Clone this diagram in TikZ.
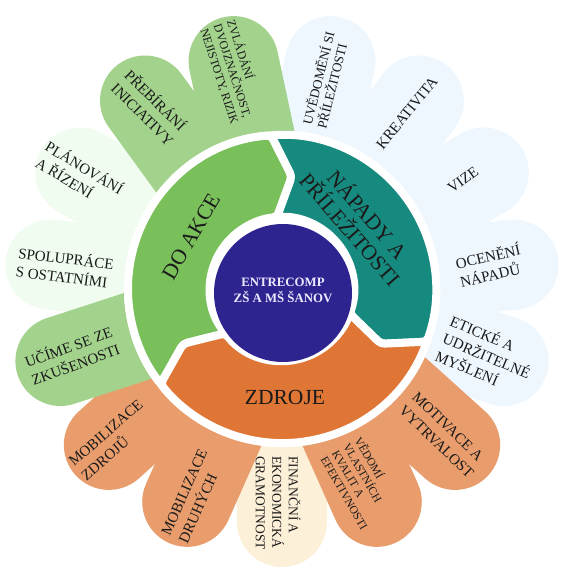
\documentclass[tikz,border=0pt]{standalone}
\usepackage{fontspec}
\setmainfont{Liberation Serif}
\definecolor{purp}{HTML}{2E2490}
\definecolor{cgreen}{HTML}{79BF5A}
\definecolor{cteal}{HTML}{178A7F}
\definecolor{corange}{HTML}{E07635}
\definecolor{pblue}{HTML}{EEF6FE}
\definecolor{pvlgreen}{HTML}{F0FCEF}
\definecolor{pgreen}{HTML}{A2D28C}
\definecolor{porange}{HTML}{E99D6C}
\definecolor{pcream}{HTML}{FDF0D8}
\definecolor{ink}{HTML}{1A1A1A}
\definecolor{centertext}{HTML}{EEEAFF}
\begin{document}
\begin{tikzpicture}[x=1pt,y=1pt,
  petalshape/.style={fill=#1},
  segshape/.style={fill=#1, draw=white, line width=8pt, rounded corners=4pt},
  ptext/.style={text=ink, align=left, inner sep=0pt, font=\fontsize{15}{19}\selectfont},
  bigtext/.style={text=ink, align=center, inner sep=0pt, font=\fontsize{21.5}{23}\selectfont},
  midtext/.style={text=centertext, align=center, inner sep=0pt, font=\bfseries\fontsize{12.8}{16}\selectfont}]
\useasboundingbox (-282,-277) rectangle (288,289);
% petals (drawing order matters)
\foreach \a/\c in {78/pblue,54/pblue,30/pblue,6/pblue,-18/pblue,
                   174/pvlgreen,150/pvlgreen,-90/pcream,
                   -42/porange,-66/porange,-114/porange,-138/porange,
                   -162/pgreen,126/pgreen,102/pgreen}{
  \fill[petalshape=\c, rotate=\a] (120,-45) -- (233,-45)
     arc[start angle=-90, end angle=90, radius=45pt] -- (120,45) -- cycle;
}
% white ring
\fill[white] (0,0) circle[radius=158pt];
% ring segments
\filldraw[segshape=cgreen] (94:154) arc[start angle=94, end angle=218, radius=154pt]
   -- (209:113) -- (218:72) arc[start angle=218, end angle=94, radius=72pt]
   -- (85:113) -- cycle;
\filldraw[segshape=cteal] (94:154) arc[start angle=94, end angle=-20, radius=154pt]
   -- (-29:113) -- (-20:72) arc[start angle=-20, end angle=94, radius=72pt]
   -- (85:113) -- cycle;
\filldraw[segshape=corange] (-20:154) arc[start angle=-20, end angle=-142, radius=154pt]
   -- (-151:113) -- (-142:72) arc[start angle=-142, end angle=-20, radius=72pt]
   -- (-29:113) -- cycle;
% centre
\fill[purp] (1,-4) circle[radius=69pt];
\node[midtext] (core) at (1,-1) {ENTRECOMP\\ZŠ A MŠ ŠANOV};
% segment labels
\node[bigtext, rotate=60] (doakce) at (150:105) {DO AKCE};
\node[bigtext, rotate=-49] (napady) at (41:103) {NÁPADY A\\PŘÍLEŽITOSTI};
\node[bigtext] (zdroje) at (3,-108) {ZDROJE};
% petal labels
\node[ptext, rotate=76, font=\fontsize{13.3}{15}\selectfont] (p1) at (43,209) {UVĚDOMĚNÍ SI\\PŘÍLEŽITOSTI};
\node[ptext, rotate=51] (p2) at (125,176) {KREATIVITA};
\node[ptext, rotate=36] (p3) at (181,109) {VIZE};
\node[ptext, rotate=13] (p4) at (208,24) {OCENĚNÍ\\NÁPADŮ};
\node[ptext, rotate=-23] (p5) at (205,-66) {ETICKÉ A\\UDRŽITELNÉ\\MYŠLENÍ};
\node[ptext, rotate=-44] (p6) at (161,-146) {MOTIVACE A\\VYTRVALOST};
\node[ptext, rotate=-60, font=\fontsize{11.5}{13}\selectfont] (p7) at (80,-194) {VĚDOMÍ\\VLASTNÍCH\\KVALIT A\\EFEKTIVNOSTI};
\node[ptext, rotate=-90, font=\fontsize{13.5}{16.5}\selectfont] (p8) at (-4,-214) {FINANČNÍ A\\EKONOMICKÁ\\GRAMOTNOST};
\node[ptext, rotate=66] (p9) at (-89,-207) {MOBILIZACE\\DRUHÝCH};
\node[ptext, rotate=41] (p10) at (-170,-151) {MOBILIZACE\\ZDROJŮ};
\node[ptext, rotate=20] (p11) at (-210,-66) {UČÍME SE ZE\\ZKUŠENOSTI};
\node[ptext, rotate=-7] (p12) at (-217,22) {SPOLUPRÁCE\\S OSTATNÍMI};
\node[ptext, rotate=-31] (p13) at (-202,114) {PLÁNOVÁNÍ\\A ŘÍZENÍ};
\node[ptext, rotate=-45] (p14) at (-132,182) {PŘEBÍRÁNÍ\\INICIATIVY};
\node[ptext, rotate=-72, font=\fontsize{12}{14}\selectfont] (p15) at (-49,217) {ZVLÁDÁNÍ\\DVOJZNAČNOST,\\NEJISTOTY, RIZIK};
\end{tikzpicture}
\end{document}
